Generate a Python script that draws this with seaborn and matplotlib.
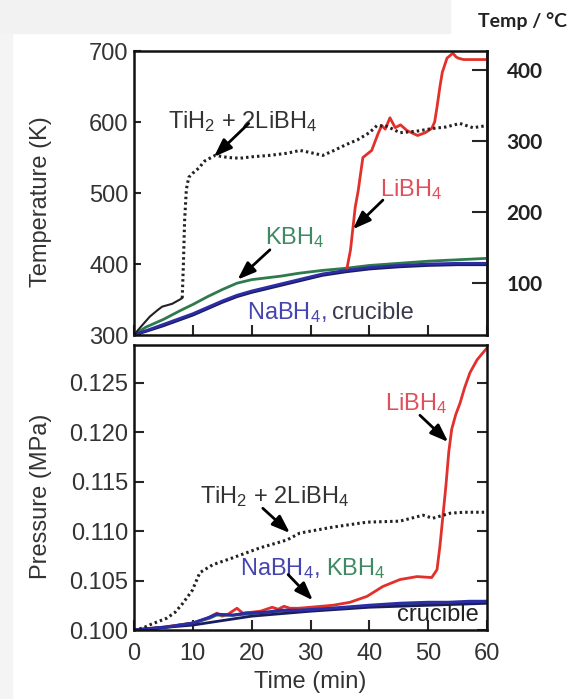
import numpy as np
import pandas as pd
import seaborn as sns
import matplotlib.pyplot as plt
from matplotlib.patches import Rectangle

# --- temperature panel data (K vs min) ---
base_time = [0, 2, 5, 8, 10, 12.5, 15, 17.5, 20, 25, 28, 32, 36, 40, 45, 50, 55, 60]
kbh4_temp = [300, 311, 322, 335, 343, 354, 364, 373, 378, 383, 387, 391, 394, 398, 401, 404, 406, 408]
nabh4_temp = [300, 306, 315, 324, 330, 339, 348, 356, 362, 372, 378, 386, 391, 395, 398, 400, 401, 401]
cruc_temp = [300, 305, 313, 322, 328, 337, 346, 354, 360, 370, 376, 384, 389, 393, 396, 398, 399, 399]

li_time = [36.2, 36.8, 37.2, 37.6, 38.1, 38.9, 40.4, 41.5, 42.1, 42.7, 43.5, 44.4, 45.3, 46.4,
           48.2, 49.5, 50.6, 51.1, 51.5, 52.0, 52.4, 53.2, 54.2, 54.7, 55.1, 56, 58, 60]
li_temp = [394, 420, 450, 480, 503, 550, 560, 584, 595, 590, 606, 592, 596, 588,
           581, 585, 591, 600, 621, 650, 670, 690, 697, 692, 690, 688, 688, 688]

ti_time_a = [0, 1, 2.7, 4, 4.8, 6.5, 7.8, 8.2]
ti_temp_a = [300, 310, 326, 335, 340, 344, 350, 352]
ti_time_b = [8.2, 8.4, 8.6, 8.9, 9.3, 10, 11, 12, 13.8, 16, 18, 20, 23, 26, 28.2, 30, 32.1,
             34, 36, 38, 40, 41.3, 43, 45.2, 48, 50.8, 53, 55.4, 57.6, 60]
ti_temp_b = [352, 400, 460, 505, 522, 528, 535, 545, 553, 550, 549, 551, 553, 556, 560, 557, 553,
             560, 568, 575, 585, 595, 594, 585, 587, 591, 593, 598, 592, 595]

celsius_ticks = [100, 200, 300, 400]

# --- pressure panel data (MPa vs min) ---
ti_p_time = [0, 1.5, 3, 5.6, 7, 8.3, 9.9, 11.2, 13.4, 16.8, 21.4, 26.0, 28.2, 33.8, 39.6,
             45.2, 49.1, 50.8, 53.7, 56, 59.3, 60]
ti_p = [0.1000, 0.1002, 0.1006, 0.1012, 0.1018, 0.1027, 0.1040, 0.1058, 0.1066, 0.1073,
        0.1083, 0.1091, 0.1098, 0.1104, 0.1109, 0.1110, 0.1116, 0.1113, 0.1118, 0.1119,
        0.1119, 0.1119]

li_p_time = [0, 5, 10, 12.5, 14.1, 15, 16, 17.5, 18.5, 20, 21.5, 23.5, 24.5, 25.5, 26.5, 28,
             30, 33.8, 36.7, 39.6, 42.3, 45.2, 48.1, 50.6, 51.5, 52.0, 52.5, 53.0, 53.5, 54.0,
             54.7, 55.4, 56.2, 57.1, 58.3, 59.7, 60]
li_p = [0.1000, 0.1003, 0.1007, 0.1012, 0.1017, 0.1014, 0.1016, 0.1022, 0.1017, 0.1018,
        0.1019, 0.1023, 0.1021, 0.1024, 0.1022, 0.1022, 0.1023, 0.1025, 0.1028, 0.1034,
        0.1044, 0.1051, 0.1054, 0.1053, 0.1061, 0.1085, 0.1115, 0.1145, 0.1180, 0.1203,
        0.1218, 0.1229, 0.1245, 0.1260, 0.1273, 0.1283, 0.1285]

na_p_time = [0, 5.6, 10, 12.9, 14, 16.8, 19, 22.6, 25, 28.2, 33.8, 40, 45.2, 50, 53.7, 57, 59.7, 60]
na_p = [0.1000, 0.1003, 0.1007, 0.1013, 0.1016, 0.1015, 0.1017, 0.1018, 0.1020, 0.1020,
        0.1022, 0.1025, 0.1027, 0.1028, 0.1028, 0.1029, 0.1029, 0.1029]
k_p = [0.1000, 0.1003, 0.1007, 0.1012, 0.1015, 0.1015, 0.1016, 0.1018, 0.1019, 0.1020,
       0.1022, 0.1024, 0.1026, 0.1027, 0.1028, 0.1028, 0.1029, 0.1029]
cruc_p_time = [0, 10, 20, 30, 40, 50, 60]
cruc_p = [0.1000, 0.1005, 0.1014, 0.1019, 0.1023, 0.1025, 0.1027]

sns.set_style("ticks")
plt.rcParams['font.family'] = ['Liberation Sans', 'DejaVu Sans']
plt.rcParams['mathtext.fontset'] = 'custom'
plt.rcParams['mathtext.rm'] = 'Liberation Sans'
plt.rcParams['mathtext.default'] = 'rm'

RED = '#e2302b'
GREEN = '#2f7a4c'
BLUE = '#2b2ca6'
NAVY = '#1b1d5e'
DOT = '#222222'
TXT = '#333333'
FS = 17

fig = plt.figure(figsize=(5.75, 6.99), dpi=100)
fig.patches.append(Rectangle((0, 1 - 33 / 699), 450 / 575, 33 / 699, transform=fig.transFigure,
                             color='#f2f2f2', zorder=-5))
fig.patches.append(Rectangle((0, 0), 12 / 575, 1 - 33 / 699, transform=fig.transFigure,
                             color='#f4f4f4', zorder=-5))

ax1 = fig.add_axes([0.233, 0.5207, 0.614, 0.4063])
ax2 = fig.add_axes([0.233, 0.0987, 0.614, 0.4077])

# top: temperature
sns.lineplot(x=base_time, y=kbh4_temp, color=GREEN, lw=2, ax=ax1)
sns.lineplot(x=base_time, y=cruc_temp, color=NAVY, lw=2, ax=ax1)
sns.lineplot(x=base_time, y=nabh4_temp, color=BLUE, lw=2, ax=ax1)
sns.lineplot(x=li_time, y=li_temp, color=RED, lw=2, ax=ax1, sort=False)
sns.lineplot(x=ti_time_a, y=ti_temp_a, color=DOT, lw=1.5, ax=ax1)
ax1.plot(ti_time_b, ti_temp_b, color=DOT, lw=2.2, ls=(0, (0.8, 1.0)))

ax1.set_xlim(0, 60)
ax1.set_ylim(300, 700)
ax1.set_yticks([300, 400, 500, 600, 700])
ax1.set_xticks([0, 10, 20, 30, 40, 50, 60])
ax1.set_xticklabels([])
ax1.set_ylabel('Temperature (K)', fontsize=FS, color=TXT)
ax1.yaxis.set_label_coords(-0.232, 0.47)

sec = ax1.secondary_yaxis('right', functions=(lambda k: k - 273.15, lambda c: c + 273.15))
sec.set_yticks(celsius_ticks)
sec.set_yticklabels([str(c) for c in celsius_ticks], fontfamily='Lato', fontweight='bold',
                    fontsize=15, color='#222222')
sec.tick_params(direction='in', length=11, width=1.5, pad=14)
sec.spines['right'].set_linewidth(1.8)

kw = dict(fontsize=FS, va='baseline', ha='left')
arrow = dict(arrowstyle='-|>,head_length=0.6,head_width=0.22', color='k', lw=2,
             mutation_scale=18, shrinkA=0, shrinkB=0)
ax1.text(5.8, 592, r'TiH$_2$ + 2LiBH$_4$', color=TXT, **kw)
ax1.annotate('', xy=(13.6, 551), xytext=(19.5, 598), arrowprops=arrow)
ax1.text(41.8, 496, r'LiBH$_4$', color='#e0505c', **kw)
ax1.annotate('', xy=(37.2, 449), xytext=(42.3, 490), arrowprops=arrow)
ax1.text(22.3, 428, r'KBH$_4$', color='#3f8a62', **kw)
ax1.annotate('', xy=(17.6, 378), xytext=(23.1, 420), arrowprops=arrow)
ax1.text(19.2, 322, r'NaBH$_4$,', color='#4545b0', **kw)
ax1.text(33.6, 322, 'crucible', color='#3a3a4a', **kw)

# bottom: pressure
sns.lineplot(x=li_p_time, y=li_p, color=RED, lw=2, ax=ax2)
sns.lineplot(x=na_p_time, y=k_p, color=GREEN, lw=2, ax=ax2)
sns.lineplot(x=cruc_p_time, y=cruc_p, color=NAVY, lw=2, ax=ax2)
sns.lineplot(x=na_p_time, y=na_p, color=BLUE, lw=2.2, ax=ax2)
ax2.plot(ti_p_time, ti_p, color=DOT, lw=2.2, ls=(0, (0.8, 1.0)))

ax2.set_xlim(0, 60)
ax2.set_ylim(0.100, 0.1288)
ax2.set_yticks([0.100, 0.105, 0.110, 0.115, 0.120, 0.125])
ax2.set_yticklabels(['0.100', '0.105', '0.110', '0.115', '0.120', '0.125'])
ax2.set_xticks([0, 10, 20, 30, 40, 50, 60])
ax2.set_xlabel('Time (min)', fontsize=FS, color=TXT, labelpad=5)
ax2.set_ylabel('Pressure (MPa)', fontsize=FS, color=TXT)
ax2.yaxis.set_label_coords(-0.232, 0.47)

ax2.text(11.2, 0.11283, r'TiH$_2$ + 2LiBH$_4$', color=TXT, **kw)
ax2.annotate('', xy=(26.5, 0.1098), xytext=(21.9, 0.1123), arrowprops=arrow)
ax2.text(42.7, 0.12222, r'LiBH$_4$', color='#e0505c', **kw)
ax2.annotate('', xy=(53.4, 0.1190), xytext=(48.6, 0.1217), arrowprops=arrow)
ax2.text(18.0, 0.10556, r'NaBH$_4$,', color='#4545b0', **kw)
ax2.text(32.6, 0.10556, r'KBH$_4$', color='#3f8a62', **kw)
ax2.annotate('', xy=(30.4, 0.1030), xytext=(26.2, 0.1056), arrowprops=arrow)
ax2.text(44.7, 0.10091, 'crucible', color='#222222', **kw)

for ax in (ax1, ax2):
    for s in ax.spines.values():
        s.set_visible(True)
        s.set_linewidth(1.8)
        s.set_color('#111111')
    ax.tick_params(axis='y', direction='in', length=5, width=1.5, pad=4,
                   labelsize=FS, labelcolor=TXT)
    ax.tick_params(axis='x', direction='in', length=7, width=1.5, pad=9,
                   labelsize=FS, labelcolor=TXT)
ax2.tick_params(axis='y', right=True, length=7)

fig.text(522 / 575, 1 - 21 / 699, 'Temp / °C', ha='center', va='center', fontfamily='Lato',
         fontweight='bold', fontsize=14, color='#222222')

fig.savefig('out.png', dpi=100)
